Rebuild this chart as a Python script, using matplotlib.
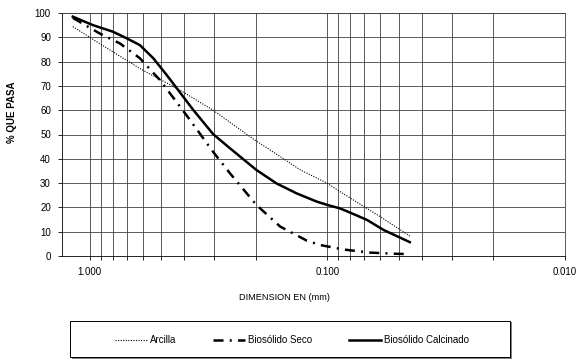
import matplotlib.pyplot as plt
from matplotlib.patches import Rectangle
from matplotlib.ticker import LogLocator, FixedLocator, NullFormatter

plt.rcParams['font.family'] = ['Liberation Sans', 'DejaVu Sans']
plt.rcParams['font.size'] = 7

# grain size (mm) and % passing
arcilla_x = [1.18, 0.80, 0.60, 0.418, 0.303, 0.202, 0.158, 0.13, 0.10, 0.0886, 0.06, 0.045]
arcilla_y = [94.4, 84.0, 76.5, 68.3, 60.0, 47.7, 40.9, 35.4, 29.9, 26.5, 16.2, 8.2]

seco_x = [1.18, 0.91, 0.748, 0.616, 0.507, 0.438, 0.379, 0.333, 0.303, 0.257, 0.199,
          0.158, 0.122, 0.107, 0.0858, 0.0663, 0.051, 0.045]
seco_y = [98.0, 91.6, 87.5, 81.4, 72.4, 64.2, 56.0, 48.4, 42.9, 34.0, 21.0,
          12.1, 6.3, 4.5, 2.7, 1.4, 0.9, 0.8]

calc_x = [1.18, 0.97, 0.80, 0.70, 0.616, 0.541, 0.475, 0.425, 0.367, 0.303, 0.257,
          0.199, 0.164, 0.135, 0.111, 0.10, 0.0886, 0.08, 0.068, 0.058, 0.045]
calc_y = [98.5, 95.0, 92.3, 89.6, 86.8, 81.4, 74.5, 68.3, 60.1, 50.2, 44.3,
          35.4, 29.9, 25.8, 22.4, 21.0, 19.6, 17.8, 14.8, 10.7, 5.7]

names = ['Arcilla', 'Biosólido Seco', 'Biosólido Calcinado']

fig = plt.figure(figsize=(5.79, 3.62), dpi=100)
ax = fig.add_axes([62 / 579, 1 - 256 / 362, 503 / 579, 243 / 362])

ax.plot(arcilla_x, arcilla_y, color='black', lw=0.8, ls=(0, (1, 1.3)), label=names[0])
ax.plot(seco_x, seco_y, color='black', lw=1.8, ls=(0, (4, 2.5, 0.8, 2.5)), label=names[1])
ax.plot(calc_x, calc_y, color='black', lw=1.8, ls='-', label=names[2])

ax.set_xscale('log')
ax.set_xlim(1.31, 0.01)
ax.set_ylim(0, 100)

ax.xaxis.set_major_locator(FixedLocator([1.0, 0.1, 0.01]))
ax.set_xticklabels(['1.000', '0.100', '0.010'])
ax.xaxis.set_minor_locator(LogLocator(base=10, subs=range(2, 10), numticks=20))
ax.xaxis.set_minor_formatter(NullFormatter())
ax.set_yticks(range(0, 101, 10))

ax.tick_params(axis='both', which='both', direction='out', length=3, width=0.6,
               color='black', pad=5, labelsize=7)
ax.grid(True, which='both', color='#404040', lw=0.6)
for s in ax.spines.values():
    s.set_color('#404040')
    s.set_linewidth(0.6)
ax.spines['left'].set_color('black')
ax.spines['bottom'].set_color('black')

fig.text(284 / 579, 1 - 297 / 362, 'DIMENSION EN (mm)', ha='center', va='center', fontsize=6.6)
fig.text(12 / 579, 1 - 112 / 362, '% QUE PASA', ha='center', va='center',
         rotation=90, fontsize=7, fontweight='bold')

# legend box with small grey shadow
fig.patches.append(Rectangle((72 / 579, 1 - 359 / 362), 440 / 579, 37 / 362,
                             transform=fig.transFigure, facecolor='#808080',
                             edgecolor='none', zorder=1))
fig.patches.append(Rectangle((70 / 579, 1 - 357 / 362), 440 / 579, 36 / 362,
                             transform=fig.transFigure, facecolor='white',
                             edgecolor='black', lw=0.7, zorder=2))
fig.legend(loc='center', bbox_to_anchor=(292 / 579, 1 - 340 / 362), ncol=3,
           frameon=False, fontsize=7, handlelength=3.3, handletextpad=0.3,
           columnspacing=3.8)

fig.savefig('out.png', dpi=100)
